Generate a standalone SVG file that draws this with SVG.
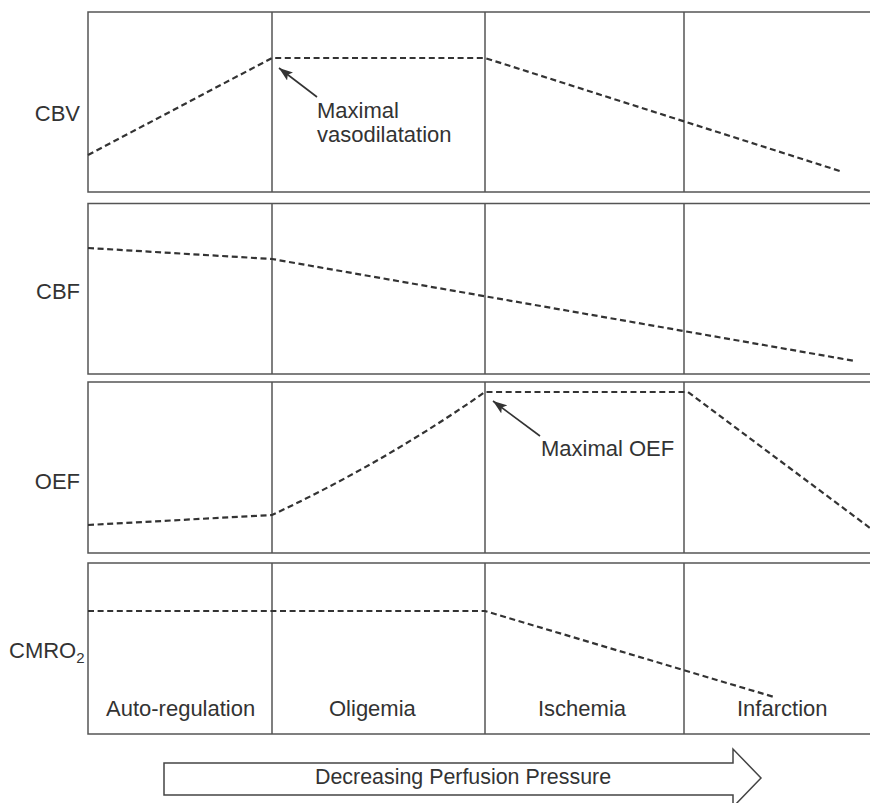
<svg xmlns="http://www.w3.org/2000/svg" width="870" height="803" viewBox="0 0 870 803">
<style>
.frame{fill:none;stroke:#555;stroke-width:1.5}
.div{stroke:#555;stroke-width:1.5}
.curve{fill:none;stroke:#333;stroke-width:2.2;stroke-dasharray:6 3.6}
.ptr{stroke:#333;stroke-width:1.6}
text{font-family:"Liberation Sans",Arial,sans-serif;font-size:22px;fill:#333}
.lab{text-anchor:end}
.sub{font-size:15px}
.press{font-size:21.4px}
</style>
<defs>
<marker id="ah" viewBox="0 0 14 10" refX="14" refY="5" markerWidth="14" markerHeight="10" markerUnits="userSpaceOnUse" orient="auto">
<path d="M0,0 L14,5 L0,10 L3,5 Z" fill="#333"/>
</marker>
</defs>
<rect width="870" height="803" fill="#fff"/>
<g id="panel-cbv">
<rect class="frame" x="88" y="12" width="790" height="180"/>
<line class="div" x1="272" y1="12" x2="272" y2="192"/>
<line class="div" x1="485" y1="12" x2="485" y2="192"/>
<line class="div" x1="684" y1="12" x2="684" y2="192"/>
<text class="lab" x="80" y="121">CBV</text>
</g>
<g id="panel-cbf">
<rect class="frame" x="88" y="203.5" width="790" height="170.5"/>
<line class="div" x1="272" y1="203.5" x2="272" y2="374"/>
<line class="div" x1="485" y1="203.5" x2="485" y2="374"/>
<line class="div" x1="684" y1="203.5" x2="684" y2="374"/>
<text class="lab" x="80" y="299">CBF</text>
</g>
<g id="panel-oef">
<rect class="frame" x="88" y="382" width="790" height="171"/>
<line class="div" x1="272" y1="382" x2="272" y2="553"/>
<line class="div" x1="485" y1="382" x2="485" y2="553"/>
<line class="div" x1="684" y1="382" x2="684" y2="553"/>
<text class="lab" x="80" y="489">OEF</text>
</g>
<g id="panel-cmro2">
<rect class="frame" x="88" y="563" width="790" height="171"/>
<line class="div" x1="272" y1="563" x2="272" y2="734"/>
<line class="div" x1="485" y1="563" x2="485" y2="734"/>
<line class="div" x1="684" y1="563" x2="684" y2="734"/>
<text x="9" y="657.5">CMRO<tspan class="sub" dy="5">2</tspan></text>
<text x="106" y="716">Auto-regulation</text>
<text x="329" y="716">Oligemia</text>
<text x="538" y="716">Ischemia</text>
<text x="737" y="716">Infarction</text>
</g>
<g id="connectors">
<polyline class="curve" points="88,155 272,58 485,58 843,172"/>
<polyline class="curve" points="88,248 272,259 855,361"/>
<path class="curve" d="M88,525 L272,515 Q385,462 485,392 L688,392 L870,528"/>
<polyline class="curve" points="88,611 485,611 774,697"/>
<line class="ptr" x1="317" y1="97" x2="279" y2="68" marker-end="url(#ah)"/>
<line class="ptr" x1="540" y1="436" x2="493" y2="401" marker-end="url(#ah)"/>
</g>
<g id="annotation-vaso">
<text x="317" y="118">Maximal</text>
<text x="317" y="142">vasodilatation</text>
</g>
<g id="annotation-oef">
<text x="541" y="456">Maximal OEF</text>
</g>
<g id="pressure-arrow">
<polygon points="164,763 733,763 733,749 761,778 733,807 733,795 164,795" fill="#fff" stroke="#444" stroke-width="1.5"/>
<text class="press" x="315" y="784">Decreasing Perfusion Pressure</text>
</g>
</svg>
